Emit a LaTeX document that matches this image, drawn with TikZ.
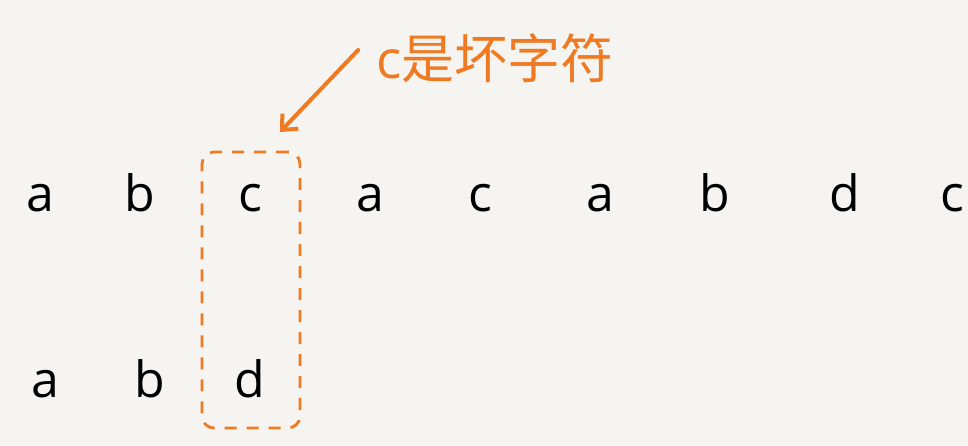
\documentclass[tikz,border=0pt]{standalone}
\usepackage{fontspec}
\setmainfont{Open Sans}
\newfontfamily\cjk{Noto Sans CJK SC}
\usetikzlibrary{fit,arrows.meta}
\definecolor{bgpaper}{HTML}{F6F4F0}
\definecolor{hlorange}{HTML}{F07A22}
\tikzset{
  letter/.style={inner sep=0pt, font=\fontsize{50}{50}\selectfont, anchor=base},
  badbox/.style={draw=hlorange, line width=2.8pt, dash pattern=on 12pt off 10pt, rounded corners=12pt, inner sep=0pt},
}
\begin{document}
\begin{tikzpicture}[x=1pt,y=-1pt]
		\fill[bgpaper] (0,0) rectangle (968,446);
		\useasboundingbox (0,0) rectangle (968,446);
		% main string
		\foreach \ch/\x [count=\i] in {a/40,b/140,c/250,a/370,c/480,a/600,b/715,d/845,c/952}
			\node[letter] (t\i) at (\x,212) {\ch};
		% pattern
		\foreach \ch/\x [count=\i] in {a/45,b/150,d/250}
			\node[letter] (p\i) at (\x,397) {\ch};
		\coordinate (boxnw) at (202,152);
		\coordinate (boxse) at (300,428);
		\node[badbox, fit=(boxnw)(boxse)] (box) {};
		\node[inner sep=0pt, text=hlorange, font=\fontsize{53}{53}\selectfont] (lbl) at (495,58) {c\cjk 是坏字符};
		\coordinate (tip) at (280,132);
		\draw[-{Straight Barb[length=12pt,width=22pt]}, hlorange, line width=4pt, line cap=round] ([xshift=-18pt,yshift=8pt]lbl.west) -- (tip);
\end{tikzpicture}
\end{document}
